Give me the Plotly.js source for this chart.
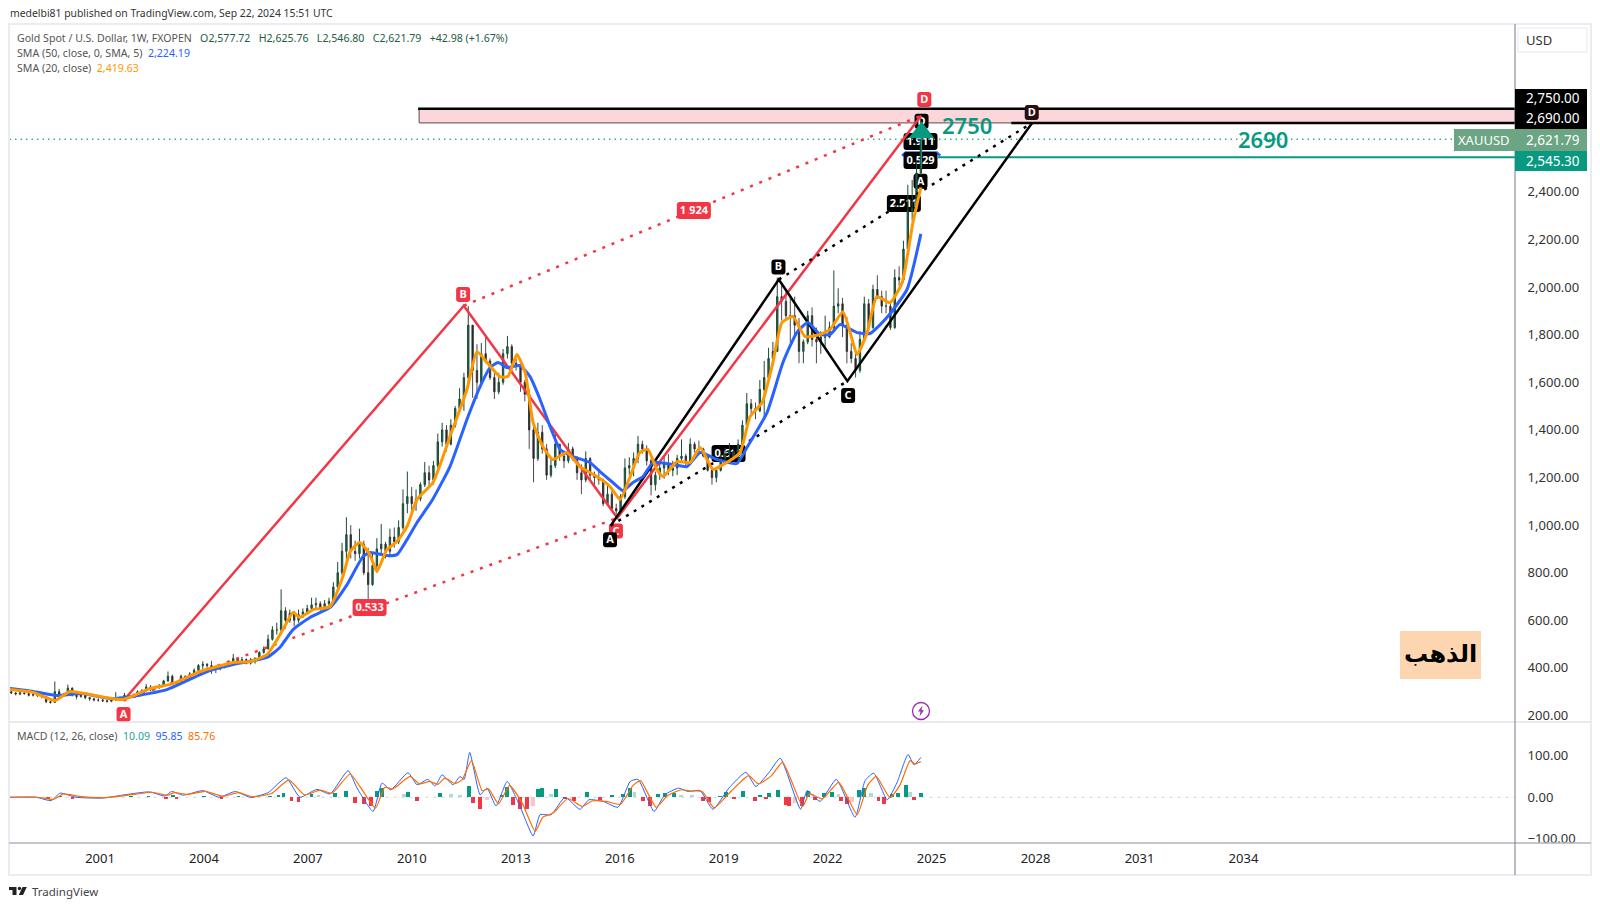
<!DOCTYPE html>
<html>
<head>
<meta charset="utf-8">
<script src="https://cdn.plot.ly/plotly-3.0.1.min.js"></script>
<style>body{margin:0;background:#fff}</style>
</head>
<body>
<div id="chart" style="width:1600px;height:907px"></div>
<script>
// weekly gold, thinned out to about 8 candles a year
const candleStart = 1998.44, candleStep = 0.1256;
const candleOpen = [300,295,290,295,
292,285,288,285,280,258,255,300,
290,285,315,285,280,285,275,270,
265,265,262,260,265,275,272,285,
278,285,300,305,320,315,318,325,
345,365,340,335,365,350,375,390,
410,415,410,395,395,405,415,425,
440,425,435,420,435,440,465,480,
520,560,560,640,600,630,600,625,
635,650,665,670,650,670,680,740,
800,890,960,890,880,920,800,750,
830,900,920,890,950,930,990,1090,
1120,1090,1110,1170,1220,1190,1250,1350,
1400,1340,1420,1490,1530,1620,1840,1650,
1600,1720,1690,1620,1560,1600,1720,1750,
1680,1670,1600,1550,1400,1280,1390,1320,
1210,1250,1340,1290,1270,1320,1280,1220,
1190,1280,1210,1200,1190,1090,1130,1070,
1060,1120,1240,1250,1280,1340,1320,1270,
1170,1210,1240,1260,1230,1240,1280,1290,
1260,1340,1320,1320,1290,1230,1200,1230,
1280,1300,1310,1280,1340,1420,1510,1490,
1480,1570,1620,1700,1730,1960,1940,1880,
1880,1840,1730,1770,1880,1780,1770,1790,
1790,1830,1920,1930,1840,1730,1700,1650,
1780,1930,1830,1990,1960,1920,1920,1830,
2040,2030,2160,2320,2330,2480];
const candleHigh = [308,298,302,300,
296,292,292,288,282,262,343,312,
295,330,318,290,292,288,278,275,
272,270,266,272,298,280,295,290,
292,306,310,332,328,325,332,350,
385,372,345,372,368,382,398,416,
428,420,430,402,412,420,432,458,
442,446,440,442,445,470,490,540,
575,590,730,655,645,640,645,650,
665,695,695,680,685,695,760,845,
925,1033,1000,935,985,935,905,880,
945,1005,930,985,990,1020,1150,1225,
1160,1150,1180,1265,1250,1270,1385,1430,
1420,1445,1500,1575,1640,1920,1800,1760,
1765,1790,1700,1640,1640,1740,1795,1760,
1700,1680,1610,1570,1420,1430,1420,1340,
1280,1390,1340,1310,1345,1330,1290,1255,
1310,1285,1225,1230,1195,1170,1145,1090,
1130,1280,1285,1305,1375,1355,1335,1280,
1225,1262,1295,1298,1270,1295,1360,1300,
1365,1350,1355,1325,1295,1245,1240,1295,
1325,1345,1325,1360,1440,1555,1530,1515,
1610,1690,1745,1770,2040,2015,1990,1965,
1960,1870,1780,1900,1915,1830,1815,1880,
1855,2070,1995,1955,1875,1765,1730,1815,
1960,1950,2010,2050,1985,1985,1935,2075,
2088,2195,2430,2450,2530,2625];
const candleLow = [290,285,285,288,
280,280,278,272,252,250,254,282,
278,282,280,268,275,268,262,260,
258,256,254,256,262,266,270,272,
276,280,292,300,302,305,312,320,
342,332,320,330,342,348,370,385,
395,395,375,378,390,398,405,420,
412,420,415,414,418,435,460,478,
515,540,550,565,590,575,590,610,
625,640,650,640,640,655,675,730,
790,850,860,850,860,790,690,745,
800,880,860,870,905,920,980,1050,
1060,1060,1100,1160,1160,1170,1240,1330,
1310,1335,1410,1470,1480,1600,1535,1530,
1590,1680,1610,1530,1550,1590,1700,1640,
1650,1560,1520,1320,1180,1270,1300,1190,
1200,1240,1270,1240,1260,1270,1190,1130,
1180,1190,1170,1170,1080,1080,1060,1045,
1050,1110,1210,1205,1260,1300,1250,1125,
1145,1190,1195,1210,1205,1210,1265,1240,
1255,1305,1305,1285,1225,1170,1180,1225,
1270,1280,1265,1270,1330,1400,1460,1445,
1475,1450,1610,1670,1730,1860,1860,1765,
1800,1680,1680,1760,1750,1680,1720,1750,
1785,1820,1890,1790,1680,1680,1620,1640,
1775,1810,1825,1950,1890,1890,1820,1825,
2005,2020,2150,2280,2320,2470];
const candleClose = [295,290,295,292,
285,288,285,280,258,255,300,290,
285,315,285,280,285,275,270,265,
265,262,260,265,275,272,285,278,
285,300,305,320,315,318,325,345,
365,340,335,365,350,375,390,410,
415,410,395,395,405,415,425,440,
425,435,420,435,440,465,480,520,
560,560,640,600,630,600,625,635,
650,665,670,650,670,680,740,800,
890,960,890,880,920,800,750,830,
900,920,890,950,930,990,1090,1120,
1090,1110,1170,1220,1190,1250,1350,1400,
1340,1420,1490,1530,1620,1840,1650,1600,
1720,1690,1620,1560,1600,1720,1750,1680,
1670,1600,1550,1400,1280,1390,1320,1210,
1250,1340,1290,1270,1320,1280,1220,1190,
1280,1210,1200,1190,1090,1130,1070,1060,
1120,1240,1250,1280,1340,1320,1270,1170,
1210,1240,1260,1230,1240,1280,1290,1260,
1340,1320,1320,1290,1230,1200,1230,1280,
1300,1310,1280,1340,1420,1510,1490,1480,
1570,1620,1700,1730,1960,1940,1880,1880,
1840,1730,1770,1880,1780,1770,1790,1790,
1830,1920,1930,1840,1730,1700,1650,1780,
1930,1830,1990,1960,1920,1920,1830,2040,
2030,2160,2320,2330,2480,2621];

const sma50Years = [1998.4,1999.07,1999.76,2000.5,2001.29,2001.95,2002.93,2003.89,2004.26,2004.84,2005.82,2006.19,2006.57,2007.06,2007.64,2008.13,2008.59,2008.79,2009.28,2009.57,2009.86,2010.15,2010.6,2011.1,2011.59,2011.97,2012.26,2012.49,2012.75,2013.12,2013.41,2013.7,2013.99,2014.28,2014.65,2015.14,2015.43,2015.8,2016.09,2016.38,2016.67,2016.96,2017.54,2017.94,2018.32,2018.8,2019.38,2019.67,2020.25,2020.71,2021.11,2021.43,2021.78,2022.07,2022.36,2022.85,2023.22,2023.71,2024.29,2024.69];
const sma50 = [313,301,284,292,271,280,309,372,393,414,444,486,561,612,654,750,868,885,872,876,939,1011,1108,1246,1444,1582,1662,1683,1662,1670,1624,1528,1414,1318,1288,1263,1225,1179,1145,1179,1204,1263,1254,1246,1305,1276,1259,1326,1473,1683,1809,1851,1801,1801,1843,1809,1805,1872,1990,2224];
const sma20Years = [1998.4,1999.07,1999.7,2000.13,2001,2001.66,2002.44,2003.11,2003.89,2004.38,2004.84,2005.33,2005.82,2006.28,2006.57,2006.77,2007.15,2007.64,2008.01,2008.22,2008.5,2008.79,2008.99,2009.28,2009.57,2009.86,2010.15,2010.61,2011.1,2011.59,2011.88,2012.17,2012.54,2012.77,2013.03,2013.27,2013.5,2013.78,2014.07,2014.48,2014.85,2015.34,2015.72,2016.01,2016.3,2016.58,2016.81,2017.07,2017.25,2017.65,2018.03,2018.32,2018.69,2018.98,2019.47,2019.76,2020.11,2020.42,2020.68,2021,2021.35,2021.78,2022.07,2022.44,2022.65,2022.85,2023.14,2023.42,2023.8,2024.15,2024.46,2024.69];
const sma20 = [309,297,263,301,280,267,313,334,385,406,423,427,456,561,633,612,645,658,784,889,927,876,805,897,931,994,1108,1179,1372,1570,1729,1683,1624,1624,1717,1641,1431,1330,1276,1305,1246,1204,1162,1108,1204,1305,1318,1234,1204,1267,1263,1326,1234,1254,1305,1456,1515,1683,1851,1876,1792,1801,1822,1897,1809,1717,1809,1960,1935,2019,2271,2419];

const macdYears = [1998.4,1999.15,1999.59,1999.85,2000.3,2001.07,2001.72,2002.43,2002.87,2003.07,2003.4,2003.97,2004.43,2004.91,2005.33,2005.85,2006.37,2006.77,2007.26,2007.64,2008.16,2008.42,2008.88,2009.14,2009.39,2009.89,2010.15,2010.46,2010.67,2010.87,2011.19,2011.39,2011.51,2011.67,2011.97,2012.17,2012.43,2012.75,2013.12,2013.5,2013.7,2014.02,2014.42,2014.85,2015.11,2015.52,2015.95,2016.3,2016.53,2016.99,2017.3,2017.7,2017.96,2018.32,2018.69,2019.15,2019.64,2019.93,2020.33,2020.63,2021.22,2021.41,2021.78,2022.25,2022.79,2023.08,2023.33,2023.72,2024,2024.32,2024.49,2024.69];
const macdLine = [0,0,-8,10,0,-2,6,13,3,14,5,16,0,14,0,11,47,0,19,8,64,22,-34,34,18,59,30,43,27,54,30,50,43,108,6,22,-21,38,-22,-93,-42,-42,0,-29,-6,-10,-24,38,43,-34,6,22,14,16,-29,22,60,26,62,94,-29,16,-10,43,-48,40,58,-6,35,103,78,96];
const signalYears = [1998.4,1999.2,1999.65,1999.95,2000.4,2001.1,2001.8,2002.5,2002.95,2003.15,2003.5,2004.05,2004.55,2005,2005.4,2005.95,2006.45,2006.9,2007.35,2007.7,2008.22,2008.5,2008.95,2009.22,2009.45,2009.95,2010.22,2010.52,2010.75,2010.95,2011.25,2011.45,2011.72,2012.03,2012.22,2012.5,2012.82,2013.18,2013.56,2013.78,2014.08,2014.5,2014.92,2015.2,2015.6,2016.02,2016.38,2016.6,2017.05,2017.38,2017.78,2018.05,2018.38,2018.72,2019.22,2019.72,2020,2020.38,2020.7,2021.28,2021.47,2021.85,2022.32,2022.85,2023.15,2023.4,2023.8,2024.08,2024.38,2024.52,2024.69];
const signalLine = [0,0,-5,8,2,-1,5,12,5,11,7,14,2,11,1,9,42,6,17,10,56,26,-26,24,20,50,32,38,31,46,33,42,88,16,20,-16,28,-13,-82,-48,-38,-3,-22,-9,-10,-17,28,40,-24,4,18,15,14,-25,15,52,32,52,84,-22,8,-4,36,-42,28,50,-1,28,88,80,86];
const histYears = [1999.5,1999.85,2000.2,2001.9,2002.4,2002.9,2003.1,2003.2,2004,2004.5,2005,2005.4,2005.9,2006.15,2006.3,2006.53,2006.73,2007.1,2007.3,2007.78,2008.1,2008.36,2008.62,2008.82,2009,2009.14,2009.77,2009.89,2010.15,2010.81,2011.13,2011.39,2011.65,2011.77,2011.97,2012.17,2012.6,2012.75,2012.92,2013.12,2013.32,2013.5,2013.64,2013.76,2014.02,2014.16,2014.42,2014.68,2015.05,2015.43,2015.77,2016.1,2016.3,2016.42,2016.67,2016.87,2017.1,2017.3,2017.57,2017.77,2018.08,2018.4,2018.57,2018.89,2019.07,2019.3,2019.56,2019.9,2020.05,2020.22,2020.31,2020.57,2020.8,2020.88,2021.06,2021.26,2021.43,2021.64,2021.9,2022.13,2022.31,2022.39,2022.56,2022.7,2022.91,2023.05,2023.25,2023.46,2023.63,2023.86,2024.03,2024.26,2024.38,2024.49,2024.69];
const histValues = [-3,4,-3,3,4,-3,5,-5,3,-4,3,-2,3,5,11,-10,-12,8,6,11,14,-14,-16,-20,16,22,8,12,-8,10,8,5,28,-14,-28,-6,6,24,-18,-28,-28,-22,20,22,8,20,-5,-10,12,-6,6,8,22,12,-8,-20,8,10,10,6,5,-10,-12,4,12,-4,16,-10,6,-4,10,18,-18,-22,-14,-20,14,-6,10,12,8,-10,-16,-12,18,22,10,-10,-16,8,10,30,12,-6,10];

// harmonic drawings: red pattern and black pattern
const redYears = [2001.68,2011.5,2015.93,2024.7];
const redPrices = [263,1922,1030,2721];
const blackYears = [2015.74,2020.59,2022.57,2027.9];
const blackPrices = [998,2032,1605,2690];

// pattern tags, ordered bottom to top
const tagText = ['C','A','B','D','0.533','1.924','A','B','C','D','0.618','2.511','1.911','0.529','A','D'];
const tagYear = [2015.89,2001.68,2011.48,2024.79,2008.78,2018.14,2015.72,2020.58,2022.59,2027.89,2019.14,2024.2,2024.68,2024.68,2024.68,2024.71];
const tagPrice = [975,204,1969,2788,654,2322,939,2085,1545,2734,1301,2351,2612,2532,2445,2697];
const tagColor = ['#f23645','#f23645','#f23645','#f23645','#f23645','#f23645','#000','#000','#000','#2a0f0f','#000','#000','#000','#000','#000','#000'];

const priceTicks = [200,400,600,800,1000,1200,1400,1600,1800,2000,2200,2400];
const macdTicks = [-100,0,100];
const yearTicks = [2001,2004,2007,2010,2013,2016,2019,2022,2025,2028,2031,2034];
const lastPrice = 2621.79, greenLevel = 2545.30, zoneLow = 2690, zoneHigh = 2750;

const FONT = '"Noto Sans", sans-serif';
const px = x => x / 1600;
const py = y => 1 - y / 907;
const xLeft = 2001 + (9.5 - 100) / 34.65, xRight = 2001 + (1515 - 100) / 34.65;
const priceRange = [172.7, 3103.5];

const candleYears = candleClose.map((c, i) => candleStart + i * candleStep);
const histColors = histValues.map((v, i) => {
    const prev = i ? histValues[i - 1] : 0;
    if (v >= 0) return v >= prev ? '#089981' : '#acdbd3';
    return v <= prev ? '#f23645' : '#fbc4c9';
});

function line(x, y, color, width, dash, yaxis) {
    return {x, y, type: 'scatter', mode: 'lines', yaxis: yaxis || 'y',
        line: {color, width, dash: dash || 'solid'}, hoverinfo: 'skip'};
}
function curve(x, y, color, width, yaxis) {
    const t = line(x, y, color, width, null, yaxis);
    t.line.shape = 'spline';
    t.line.smoothing = 0.5;
    return t;
}

const traces = [
    {type: 'bar', x: histYears, y: histValues, yaxis: 'y2', width: 0.1, marker: {color: histColors, line: {width: 0}}, hoverinfo: 'skip'},
    {type: 'candlestick', x: candleYears, open: candleOpen, high: candleHigh, low: candleLow, close: candleClose,
        whiskerwidth: 0,
        increasing: {line: {color: '#1d4a36', width: 1}, fillcolor: '#1f6b4a'},
        decreasing: {line: {color: 'rgba(43,43,43,0.85)', width: 1}, fillcolor: '#2b2b2b'},
        hoverinfo: 'skip'},
    line([xLeft, xRight], [lastPrice, lastPrice], '#3fae7e', 1.5, '1.5px,4px'),
    line([2025.18, xRight], [greenLevel, greenLevel], '#089981', 2),
    line([redYears[0], redYears[2]], [redPrices[0], redPrices[2]], '#f23645', 2.5, '3px,7px'),
    line([redYears[1], redYears[3]], [redPrices[1], redPrices[3]], '#f23645', 2.5, '3px,7px'),
    line(redYears, redPrices, '#f23645', 2.5),
    line([blackYears[0], blackYears[2]], [blackPrices[0], blackPrices[2]], '#000', 2.5, '3px,6px'),
    line([blackYears[1], blackYears[3]], [blackPrices[1], blackPrices[3]], '#000', 2.5, '3px,6px'),
    line(blackYears, blackPrices, '#000', 2.5),
    curve(sma50Years, sma50, '#2962ff', 3),
    curve(sma20Years, sma20, '#ff9800', 3),
    line([2024.71, 2024.71], [2500, 2650], '#089981', 1),
    {type: 'scatter', mode: 'markers', x: [2024.71], y: [2650], marker: {symbol: 'triangle-up', size: 22, color: '#089981'}, hoverinfo: 'skip'},
    curve(macdYears, macdLine, '#2962ff', 1, 'y2'),
    curve(signalYears, signalLine, '#ff6d00', 1.2, 'y2')
];

function note(x, y, text, opts) {
    return Object.assign({xref: 'paper', yref: 'paper', x: px(x), y: py(y), text, showarrow: false,
        xanchor: 'left', yanchor: 'middle', font: {family: FONT, size: 10.6, color: '#555'}}, opts || {});
}
const sp = (c, t) => `<span style="color:${c}">${t}</span>`;
const G = '#235c42';
const tagFont = (color, size) => ({family: FONT, size, color});
const gap = '&nbsp;&nbsp;&nbsp;';

const annotations = [
    note(8, 13, 'medelbi81 published on TradingView.com, Sep 22, 2024 15:51 UTC', {font: tagFont('#333', 10.4)}),
    note(15, 38, 'Gold Spot / U.S. Dollar, 1W, FXOPEN' + gap + sp(G, 'O2,577.72' + gap + 'H2,625.76' + gap + 'L2,546.80' + gap + 'C2,621.79' + gap + '+42.98 (+1.67%)')),
    note(15, 53, 'SMA (50, close, 0, SMA, 5)&nbsp;&nbsp;' + sp('#2962ff', '2,224.19')),
    note(15, 68, 'SMA (20, close)&nbsp;&nbsp;' + sp('#ff9800', '2,419.63')),
    note(15, 736, 'MACD (12, 26, close)&nbsp;&nbsp;' + sp('#26a69a', '10.09') + '&nbsp;&nbsp;' + sp('#2962ff', '95.85') + '&nbsp;&nbsp;' + sp('#ff6d00', '85.76')),
    note(30, 891, 'TradingView', {font: tagFont('#444', 11.5)}),
    note(1539, 40, 'USD', {xanchor: 'center', font: tagFont('#333', 13)}),
    note(1553, 98.5, '2,750.00', {xanchor: 'center', font: tagFont('#fff', 13.5)}),
    note(1553, 118.5, '2,690.00', {xanchor: 'center', font: tagFont('#fff', 13.5)}),
    note(1553, 140, '2,621.79', {xanchor: 'center', font: tagFont('#fff', 13.5)}),
    note(1553, 160.5, '2,545.30', {xanchor: 'center', font: tagFont('#fff', 13.5)}),
    note(1484, 140, 'XAUUSD', {xanchor: 'center', font: tagFont('#fff', 13)}),
    note(967, 124.5, '2750', {xanchor: 'center', font: {family: FONT, size: 22, color: '#089981', weight: 600}}),
    note(1263, 139, '2690', {xanchor: 'center', font: {family: FONT, size: 22, color: '#089981', weight: 600}}),
    note(1440, 654, 'الذهب', {xanchor: 'center', font: {family: '"DejaVu Sans", sans-serif', size: 24, color: '#000', weight: 700}})
];

function paperRect(x0, y0, x1, y1, fill, lineColor, lineWidth) {
    return {type: 'rect', xref: 'paper', yref: 'paper', x0: px(x0), x1: px(x1), y0: py(y0), y1: py(y1),
        fillcolor: fill, line: {color: lineColor || fill, width: lineWidth || 0}, layer: 'above'};
}
function paperLine(x0, y0, x1, y1, color, width) {
    return {type: 'line', xref: 'paper', yref: 'paper', x0: px(x0), x1: px(x1), y0: py(y0), y1: py(y1),
        line: {color, width}, layer: 'above'};
}
function paperPath(points, fill) {
    const d = points.map((p, i) => (i ? 'L' : 'M') + px(p[0]) + ' ' + py(p[1])).join(' ') + ' Z';
    return {type: 'path', xref: 'paper', yref: 'paper', path: d, fillcolor: fill, line: {width: 0}, layer: 'above'};
}

// tags live below the traces, the candles run over them in the picture.
// they stay on the data axes: paper shapes in the below layer end up under the subplot
function tagShapes(i) {
    const t = tagText[i], w = t.length > 1 ? 34 : 14, h = t.length > 1 ? 17 : 15;
    const pxPerPrice = (722 - 24.5) / (priceRange[1] - priceRange[0]);
    const cx = tagYear[i], cy = tagPrice[i];
    const a = w / 2 / 34.65, b = h / 2 / pxPerPrice, ra = 3 / 34.65, rb = 3 / pxPerPrice;
    const xl = cx - a, xr = cx + a, yl = cy - b, yh = cy + b;
    const d = `M ${xl + ra} ${yl} L ${xr - ra} ${yl} Q ${xr} ${yl} ${xr} ${yl + rb} L ${xr} ${yh - rb} Q ${xr} ${yh} ${xr - ra} ${yh} L ${xl + ra} ${yh} Q ${xl} ${yh} ${xl} ${yh - rb} L ${xl} ${yl + rb} Q ${xl} ${yl} ${xl + ra} ${yl} Z`;
    return [
        {type: 'path', xref: 'x', yref: 'y', path: d, fillcolor: tagColor[i], line: {width: 0}, layer: 'below'},
        {type: 'rect', xref: 'x', yref: 'y', x0: xl, x1: xr, y0: yl, y1: yh, layer: 'below', line: {width: 0}, fillcolor: 'rgba(0,0,0,0)',
            label: {text: t, textposition: 'middle center', font: {family: FONT, size: 11, color: '#fff', weight: 700}}}
    ];
}

const shapes = [
    {type: 'rect', xref: 'x', yref: 'y', x0: 2010.21, x1: xRight, y0: zoneLow, y1: zoneHigh, fillcolor: '#fbd6da', line: {width: 1, color: '#6a4548'}, layer: 'below'},
    {type: 'line', xref: 'x', yref: 'y', x0: 2010.18, x1: xRight, y0: zoneHigh, y1: zoneHigh, line: {color: '#000', width: 2.5}, layer: 'below'},
    {type: 'line', xref: 'x', yref: 'y', x0: 2027.3, x1: xRight, y0: zoneLow, y1: zoneLow, line: {color: '#000', width: 2.5}, layer: 'below'},
    {type: 'line', xref: 'x', yref: 'y2', x0: xLeft, x1: xRight, y0: 0, y1: 0, line: {color: '#cfd2da', width: 1, dash: '3px,5px'}, layer: 'below'},
    {type: 'path', xref: 'x', yref: 'y', path: 'M 2024.15 2552 L 2024.25 2566 L 2025.15 2566 L 2025.25 2552', line: {color: '#2962ff', width: 2.5}, layer: 'below'}
];
tagText.forEach((t, i) => shapes.push(...tagShapes(i)));
shapes.push(
    paperRect(9, 24, 1591, 875, 'rgba(0,0,0,0)', '#eaecf1', 2),
    paperLine(9, 722, 1591, 722, '#e0e3eb', 1.5),
    paperLine(9, 843, 1591, 843, '#b2b5be', 1.5),
    paperLine(1515, 24, 1515, 875, '#787b86', 1),
    paperRect(1518, 28, 1587, 52, '#fff', '#e6e8ee', 1),
    paperRect(1515, 89, 1587, 129, '#000'),
    paperRect(1454, 129, 1587, 151, '#6ba583'),
    paperRect(1515, 151, 1587, 171, '#089981'),
    paperRect(1400, 631, 1481, 679, '#fdd5b1'),
    // publisher logo
    paperPath([[9, 887], [16.5, 887], [16.5, 895], [12.5, 895], [12.5, 890], [9, 890]], '#222'),
    {type: 'circle', xref: 'paper', yref: 'paper', x0: px(17.8), x1: px(21.2), y0: py(886.8), y1: py(890.2), fillcolor: '#222', line: {width: 0}, layer: 'above'},
    paperPath([[22.5, 887], [26.8, 887], [23, 895], [18.8, 895]], '#222'),
    // lightning badge
    {type: 'circle', xref: 'paper', yref: 'paper', x0: px(912.5), x1: px(929.5), y0: py(702.5), y1: py(719.5), fillcolor: '#fff', line: {color: '#9c27b0', width: 1.3}, layer: 'above'},
    paperPath([[922.5, 705.5], [918, 711.5], [920.6, 711.5], [919.5, 716.5], [924, 710.2], [921.4, 710.2]], '#9c27b0')
);

const layout = {
    width: 1600, height: 907, margin: {l: 0, r: 0, t: 0, b: 0},
    paper_bgcolor: '#fff', plot_bgcolor: '#fff', showlegend: false, bargap: 0, boxgap: 0.55,
    font: {family: FONT, size: 13, color: '#131722'},
    xaxis: {domain: [px(9.5), px(1515)], range: [xLeft, xRight], anchor: 'y2', showgrid: false, zeroline: false,
        showline: false, tickvals: yearTicks, ticktext: yearTicks.map(String), ticks: 'outside', ticklen: 3, tickcolor: 'rgba(0,0,0,0)',
        tickfont: {family: FONT, size: 13, color: '#222'}, rangeslider: {visible: false}},
    yaxis: {domain: [py(722), py(24.5)], range: priceRange, anchor: 'x', side: 'right', showgrid: false, zeroline: false,
        tickvals: priceTicks, tickformat: ',.2f', ticks: 'outside', ticklen: 9, tickcolor: 'rgba(0,0,0,0)',
        tickfont: {family: FONT, size: 13, color: '#333'}},
    yaxis2: {domain: [py(843), py(722)], range: [-110, 181], anchor: 'x', side: 'right', showgrid: false, zeroline: false,
        tickvals: macdTicks, tickformat: ',.2f', ticks: 'outside', ticklen: 9, tickcolor: 'rgba(0,0,0,0)',
        tickfont: {family: FONT, size: 13, color: '#333'}},
    shapes, annotations
};

Plotly.newPlot('chart', traces, layout, {displayModeBar: false, staticPlot: true});
</script>
</body>
</html>
